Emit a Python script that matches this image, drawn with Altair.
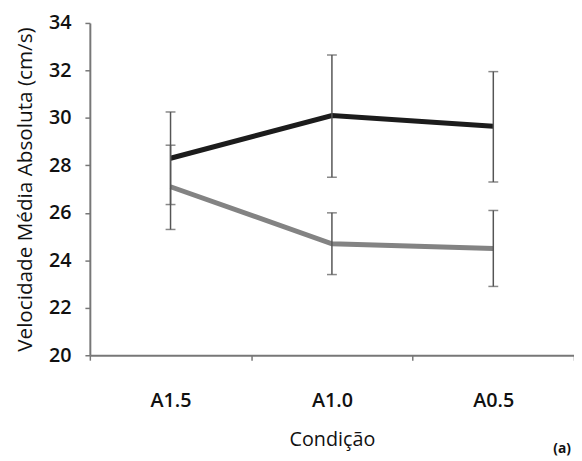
import altair as alt
import pandas as pd

conditions = ["A1.5", "A1.0", "A0.5"]
series = ["Preto", "Cinza"]
black_mean = [28.3, 30.1, 29.65]
black_low = [26.35, 27.5, 27.3]
black_high = [30.25, 32.65, 31.95]
gray_mean = [27.1, 24.7, 24.5]
gray_low = [25.3, 23.4, 22.9]
gray_high = [28.85, 26.0, 26.1]
y_ticks = [20, 22, 24, 26, 28, 30, 32, 34]

rows = []
for name, m, lo, hi in [("Preto", black_mean, black_low, black_high),
                        ("Cinza", gray_mean, gray_low, gray_high)]:
    for c, a, b, d in zip(conditions, m, lo, hi):
        rows.append({"serie": name, "cond": c, "mean": a, "low": b, "high": d})
df = pd.DataFrame(rows)

font = "Open Sans"

x = alt.X("cond:N", sort=conditions,
          scale=alt.Scale(paddingInner=0, paddingOuter=0),
          axis=alt.Axis(title="Condição", labelAngle=0, labelFontSize=20,
                        labelFontWeight=600, labelColor="#111", labelPadding=31,
                        tickBand="extent", tickSize=5, tickColor="#777", tickWidth=1.5,
                        domainColor="#777", domainWidth=2,
                        titleFontSize=20, titleFontWeight="normal", titleColor="#111",
                        titlePadding=20, labelFont=font, titleFont=font))
yscale = alt.Scale(domain=[20, 34], nice=False, zero=False)
y = alt.Y("mean:Q", scale=yscale,
          axis=alt.Axis(title="Velocidade Média Absoluta (cm/s)", values=y_ticks,
                        labelFontSize=20, labelFontWeight=600, labelColor="#111",
                        labelPadding=14, tickSize=5, tickColor="#777", tickWidth=1.5,
                        domainColor="#777", domainWidth=2, grid=False,
                        titleFontSize=21, titleFontWeight="normal", titleColor="#111",
                        titlePadding=13, labelFont=font, titleFont=font))
color = alt.Color("serie:N", scale=alt.Scale(domain=series, range=["#1c1c1c", "#838383"]),
                  legend=None)

base = alt.Chart(df)
lines = base.mark_line(strokeWidth=5).encode(x=x, y=y, color=color, detail="serie:N")
rules = base.mark_rule(color="#555", strokeWidth=1.5).encode(
    x=alt.X("cond:N", sort=conditions), y=alt.Y("low:Q", scale=yscale), y2="high:Q")
cap_lo = base.mark_tick(color="#555", thickness=1.5, size=10, orient="horizontal").encode(
    x=alt.X("cond:N", sort=conditions), y=alt.Y("low:Q", scale=yscale))
cap_hi = base.mark_tick(color="#555", thickness=1.5, size=10, orient="horizontal").encode(
    x=alt.X("cond:N", sort=conditions), y=alt.Y("high:Q", scale=yscale))
label = alt.Chart(pd.DataFrame({"t": ["(a)"]})).mark_text(
    font=font, fontSize=14, fontWeight="bold", color="#111").encode(
    text="t:N", x=alt.value(479), y=alt.value(432))

chart = alt.layer(lines, rules, cap_lo, cap_hi, label).properties(
    width=491, height=337,
    autosize=alt.AutoSizeParams(type="none"),
    padding={"left": 83, "top": 12, "right": 0, "bottom": 100},
).configure_view(stroke=None)

chart.save("out.html", embed_options={"renderer": "svg", "actions": False})
